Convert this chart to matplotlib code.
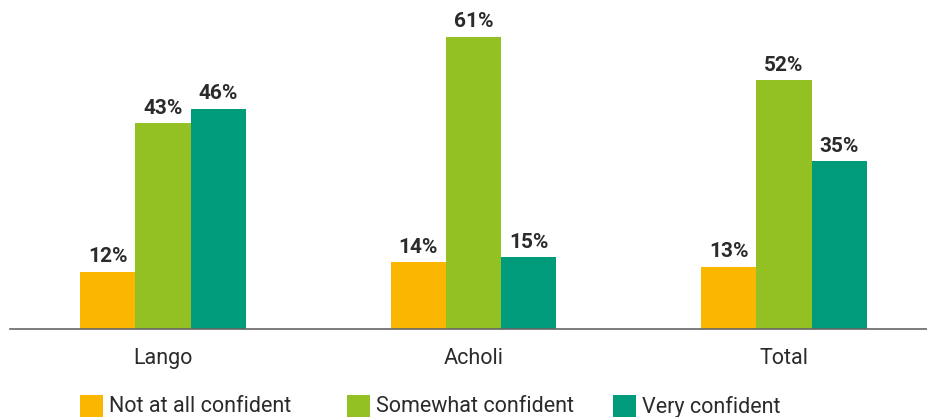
import matplotlib
matplotlib.use('Agg')
import matplotlib.pyplot as plt
from matplotlib.patches import Rectangle

plt.rcParams['font.family'] = ['Roboto', 'DejaVu Sans']

categories = ["Lango", "Acholi", "Total"]
series = ["Not at all confident", "Somewhat confident", "Very confident"]
not_conf = [12, 14, 13]
somewhat = [43, 61, 52]
very = [46, 15, 35]
colors = ["#FBB600", "#93C022", "#009B7A"]

W, H = 928, 417
fig = plt.figure(figsize=(W / 100, H / 100), dpi=100)
ax = fig.add_axes([10 / W, 1 - 329 / H, 918 / W, 329 / H])

w = 0.178
x = list(range(len(categories)))
for i, vals in enumerate([not_conf, somewhat, very]):
    xs = [xi + (i - 1) * w for xi in x]
    ax.bar(xs, vals, width=w, color=colors[i], linewidth=0)
    for xx, v in zip(xs, vals):
        ax.annotate(str(v) + "%", (xx, v), xytext=(0, 6.8), textcoords='offset points',
                    ha='center', va='baseline', fontsize=15, fontweight='bold',
                    color='#2b2b2b')

ax.set_xlim(-0.493, 2.464)
ax.set_ylim(0, 68.7)
for s in ['top', 'right', 'left']:
    ax.spines[s].set_visible(False)
ax.spines['bottom'].set_color('#666666')
ax.spines['bottom'].set_linewidth(1.2)
ax.set_yticks([])
ax.set_xticks(x)
ax.set_xticklabels(categories, fontsize=15.5, color='#2b2b2b')
ax.tick_params(axis='x', length=0, pad=14)

# legend drawn by hand: fixed slots along the bottom
legend_x = [80, 347, 613]
for lx, name, c in zip(legend_x, series, colors):
    fig.add_artist(Rectangle((lx / W, 1 - 418 / H), 23 / W, 23 / H,
                             transform=fig.transFigure, facecolor=c, edgecolor='none'))
    fig.text((lx + 29) / W, 1 - 407 / H, name, ha='left', va='center',
             fontsize=15.5, color='#2b2b2b')

plt.savefig("out.png", dpi=100)
plt.close()
